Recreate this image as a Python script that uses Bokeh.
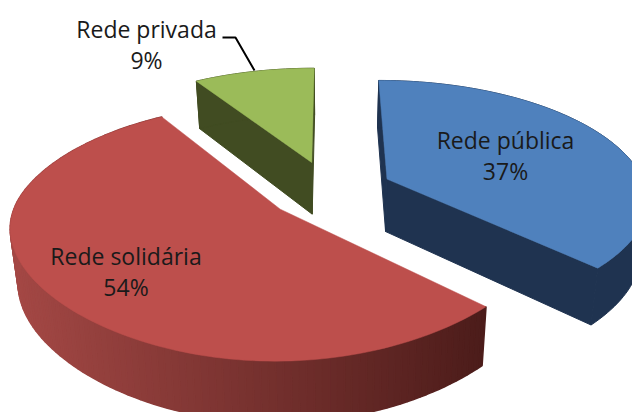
from math import sin, cos, radians
from bokeh.plotting import figure
from bokeh.models import Range1d
from bokeh.core.properties import value
from bokeh.embed import file_html
from bokeh.resources import INLINE

categories = ["Rede pública", "Rede solidária", "Rede privada"]
values = [37, 54, 9]
percent_labels = ["37%", "54%", "9%"]
top_colors = ["#4F81BD", "#BD4F4C", "#9BBB59"]
side_colors = ["#1F3350", None, "#414C22"]
red_side_light = (164, 72, 69)
red_side_dark = (76, 28, 26)
label_centres = [(505, 139), (125.5, 255), (146, 28)]
leader_x = [222, 235, 254]
leader_y = [37, 37, 70]

# projection of the tilted pie
CX, CY, A, B, K = 329, 190, 260, 119, 0.17
EXPLODE = [0.245, 0.24, 0.255]
DEPTH, SCALE_X, SCALE_Y = 53, 0.975, 1.05
NEAR_TRIM = 22


def project(X, Y, bottom=False):
    v = -Y
    w = 1 - K * v
    px = A * X / w - NEAR_TRIM * X * max(v, 0) ** 2
    py = B * v / w
    if bottom:
        return CX + px * SCALE_X, CY + DEPTH + py * SCALE_Y
    return CX + px, CY + py


W, H = 632, 412
p = figure(width=W, height=H, x_range=Range1d(0, W), y_range=Range1d(H, 0),
           output_backend="svg", toolbar_location=None, min_border=0,
           background_fill_color="white", border_fill_color="white")
p.axis.visible = False
p.grid.visible = False
p.outline_line_color = None

total = sum(values)
starts, a = [], 0.0
for val in values:
    starts.append(a)
    a += val / total * 360


def slice_geometry(start, val, explode):
    span = val / total * 360
    mid = radians(start + span / 2)
    ox, oy = explode * sin(mid), explode * cos(mid)
    n = max(8, int(span / 1.5))
    angs = [radians(start + span * i / n) for i in range(n + 1)]
    rim = [(ox + sin(t), oy + cos(t)) for t in angs]
    return (ox, oy), rim


# painter's order: green (back), blue, red (front)
for i in [2, 0, 1]:
    apex, rim = slice_geometry(starts[i], values[i], EXPLODE[i])
    top = [project(*q) for q in rim]
    bot = [project(*q, bottom=True) for q in rim]
    ap_t = project(*apex)
    ap_b = project(*apex, bottom=True)
    if side_colors[i]:
        c = side_colors[i]
        for e in (0, -1):
            p.patch([ap_t[0], top[e][0], bot[e][0], ap_b[0]],
                    [ap_t[1], top[e][1], bot[e][1], ap_b[1]],
                    fill_color=c, line_color=c, line_width=1)
        p.patch([q[0] for q in top] + [q[0] for q in bot[::-1]],
                [q[1] for q in top] + [q[1] for q in bot[::-1]],
                fill_color=c, line_color=c, line_width=1)
    else:
        x0, x1 = min(q[0] for q in top), max(q[0] for q in top)
        for j in range(len(top) - 1):
            t = ((top[j][0] + top[j + 1][0]) / 2 - x0) / (x1 - x0)
            rgb = [int(round(red_side_light[k] + (red_side_dark[k] - red_side_light[k]) * t)) for k in range(3)]
            c = "#%02X%02X%02X" % tuple(rgb)
            p.patch([top[j][0], top[j + 1][0], bot[j + 1][0], bot[j][0]],
                    [top[j][1], top[j + 1][1], bot[j + 1][1], bot[j][1]],
                    fill_color=c, line_color=c, line_width=1.5)
    p.patch([ap_t[0]] + [q[0] for q in top], [ap_t[1]] + [q[1] for q in top],
            fill_color=top_colors[i], line_color=top_colors[i], line_width=0.5)

p.line(leader_x, leader_y, line_color="black", line_width=2)

for (lx, ly), name, pct in zip(label_centres, categories, percent_labels):
    p.text([lx, lx], [ly, ly + 31], text=[name, pct], text_font=value("Open Sans"),
           text_font_size="23px", text_color="#1a1a1a",
           text_align="center", text_baseline="middle")

open("out.html", "w").write(file_html(p, INLINE))
